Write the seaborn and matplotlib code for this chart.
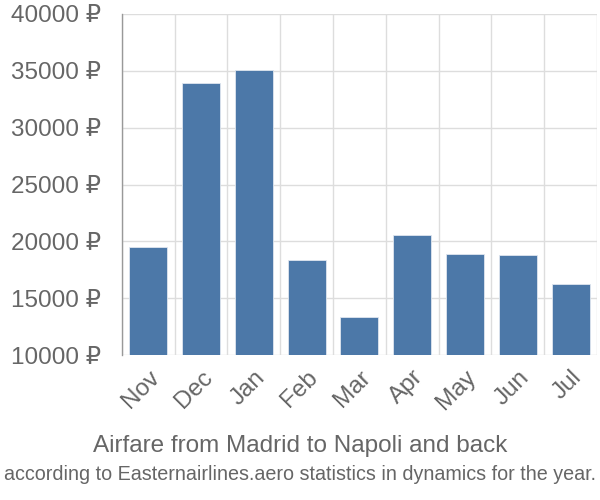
import matplotlib
matplotlib.use("Agg")
import matplotlib.pyplot as plt
import seaborn as sns
import numpy as np
import pandas as pd

# Values
months = ["Nov", "Dec", "Jan", "Feb", "Mar", "Apr", "May", "Jun", "Jul"]
prices = [19530, 33950, 35100, 18360, 13370, 20530, 18910, 18820, 16250]
y_ticks = [10000, 15000, 20000, 25000, 30000, 35000, 40000]

title = "Airfare from Madrid to Napoli and back"
subtitle = "according to Easternairlines.aero statistics in dynamics for the year."

bar_color = "#4c78a8"
text_color = "#666666"
grid_color = "#dddddd"

sns.set_style("white")
plt.rcParams['font.family'] = ['Liberation Sans', 'DejaVu Sans']

df = pd.DataFrame({"month": months, "price": prices})

fig = plt.figure(figsize=(6, 5), dpi=100)
ax = fig.add_axes([0.203, 0.29, 0.792, 0.682])

sns.barplot(data=df, x="month", y="price", color=bar_color, width=0.72,
            edgecolor="#dfe6ef", linewidth=0.6, saturation=1, ax=ax, zorder=3)

ax.set_ylim(10000, 40000)
ax.set_xlim(-0.5, len(months) - 0.5)
ax.set_yticks(y_ticks)
ax.set_yticklabels([f"{v} ₽" for v in y_ticks])

# category boundaries as minor ticks -> vertical grid + tick marks
ax.set_xticks(np.arange(-0.5, len(months)), minor=True)
ax.grid(True, which="minor", axis="x", color=grid_color, linewidth=1, zorder=0)
ax.grid(True, which="major", axis="y", color=grid_color, linewidth=1, zorder=0)
ax.tick_params(axis="x", which="minor", length=14.5, color=grid_color, width=1)
ax.tick_params(axis="x", which="major", length=0, pad=8)
ax.tick_params(axis="y", which="major", length=14, color=grid_color, width=1, pad=1)
ax.tick_params(labelsize=17.5, labelcolor=text_color)

for lbl in ax.get_xticklabels():
    lbl.set_rotation(45)
    lbl.set_ha("right")
    lbl.set_rotation_mode("anchor")

for s in ["top", "right", "bottom"]:
    ax.spines[s].set_visible(False)
ax.spines["left"].set_color("#999999")
ax.spines["left"].set_linewidth(1)

ax.set_xlabel("")
ax.set_ylabel("")

fig.text(0.5, 0.108, title, ha="center", va="center", fontsize=17.5, color=text_color)
fig.text(0.5, 0.05, subtitle, ha="center", va="center", fontsize=14.2, color=text_color)

fig.savefig("out.png", dpi=100)
